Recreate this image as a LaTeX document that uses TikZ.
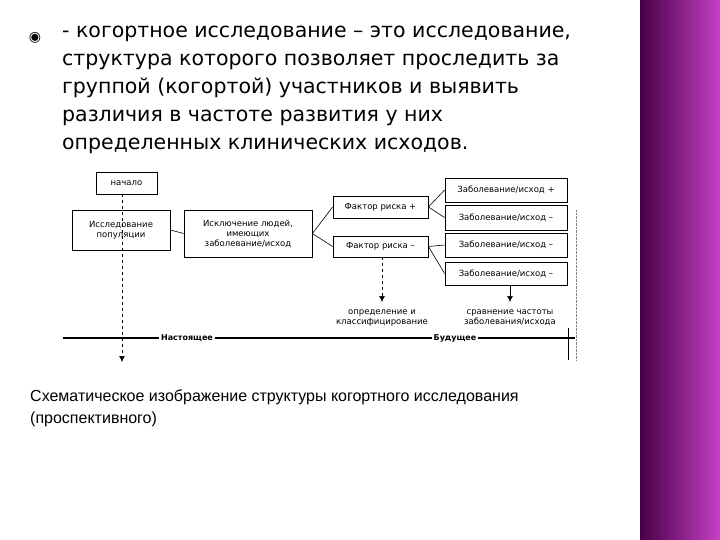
\documentclass[tikz,border=0pt]{standalone}
\usepackage{fontspec}
\usetikzlibrary{arrows.meta}
\setmainfont{DejaVu Sans}
\newfontfamily\capfont{Liberation Sans}
\begin{document}
\begin{tikzpicture}[x=1pt,y=-1pt,
 bx/.style={draw,line width=0.8pt,inner sep=0pt,align=center,font=\fontsize{8.5}{10}\selectfont},
 ln/.style={line width=0.6pt},
 ar/.style={line width=0.7pt,dashed,-{Latex[length=6pt,width=6pt]}}]
\useasboundingbox (0,0) rectangle (720,540);
\fill[white] (0,0) rectangle (720,540);
\shade[left color=violet!55!black,right color=violet!60!magenta!75] (640,0) rectangle (720,540);
\node (bul) at (35,38) {\fontsize{14}{14}\selectfont ◉};
\node[anchor=north west,align=left,inner sep=0pt,font=\fontsize{20.5}{28}\selectfont] (txt) at (62,26)
 {- когортное исследование – это исследование,\\ структура которого позволяет проследить за\\ группой (когортой) участников и выявить\\ различия в частоте развития у них\\ определенных клинических исходов.};
\node[bx,minimum width=61,minimum height=22] (st) at (126.5,183) {начало};
\node[bx,minimum width=98,minimum height=40] (pop) at (121,230) {Исследование\\популяции};
\node[bx,minimum width=128,minimum height=47] (ex) at (248,233.5) {Исключение людей,\\имеющих\\заболевание/исход};
\node[bx,minimum width=95,minimum height=22] (fp) at (380.5,207) {Фактор риска +};
\node[bx,minimum width=95,minimum height=21] (fm) at (380.5,246.5) {Фактор риска –};
\node[bx,minimum width=122,minimum height=24] (o1) at (506,190) {Заболевание/исход +};
\node[bx,minimum width=122,minimum height=25] (o2) at (506,217.5) {Заболевание/исход –};
\node[bx,minimum width=122,minimum height=24] (o3) at (506,245) {Заболевание/исход –};
\node[bx,minimum width=122,minimum height=23] (o4) at (506,273.5) {Заболевание/исход –};
\draw[ln] (pop.east) -- (ex.west);
\draw[ln] (ex.east) -- (fp.west);
\draw[ln] (ex.east) -- (fm.west);
\draw[ln] (fp.east) -- (o1.west);
\draw[ln] (fp.east) -- (o2.west);
\draw[ln] (fm.east) -- (o3.west);
\draw[ln] (fm.east) -- (o4.west);
\coordinate (a0) at (122,362);
\draw[ar] (st.south -| a0) -- (a0);
\coordinate (a1) at (382,302);
\draw[ar] (fm.south -| a1) -- (a1);
\coordinate (a2) at (510,302);
\draw[ar,solid] (o4.south -| a2) -- (a2);
\node[font=\fontsize{8.5}{10}\selectfont,align=center] (d1) at (382,318) {определение и\\классифицирование};
\node[font=\fontsize{8.5}{10}\selectfont,align=center] (d2) at (510,318) {сравнение частоты\\заболевания/исхода};
\coordinate (t0) at (63,338); \coordinate (t1) at (575,338);
\draw[line width=1.2pt] (t0) -- (t1);
\node[fill=white,inner sep=2pt,font=\bfseries\fontsize{8}{10}\selectfont] (now) at (187,338) {Настоящее};
\node[fill=white,inner sep=2pt,font=\bfseries\fontsize{8}{10}\selectfont] (fut) at (455,338) {Будущее};
\coordinate (v0) at (568,328); \coordinate (v1) at (568,360);
\draw[line width=0.8pt] (v0) -- (v1);
\coordinate (w0) at (576,210); \coordinate (w1) at (576,360);
\draw[densely dotted,gray] (w0) -- (w1);
\node[anchor=north west,align=left,inner sep=0pt,font=\capfont\fontsize{16}{22}\selectfont] (capt) at (30,390)
 {Схематическое изображение структуры когортного исследования\\(проспективного)};
\end{tikzpicture}
\end{document}
